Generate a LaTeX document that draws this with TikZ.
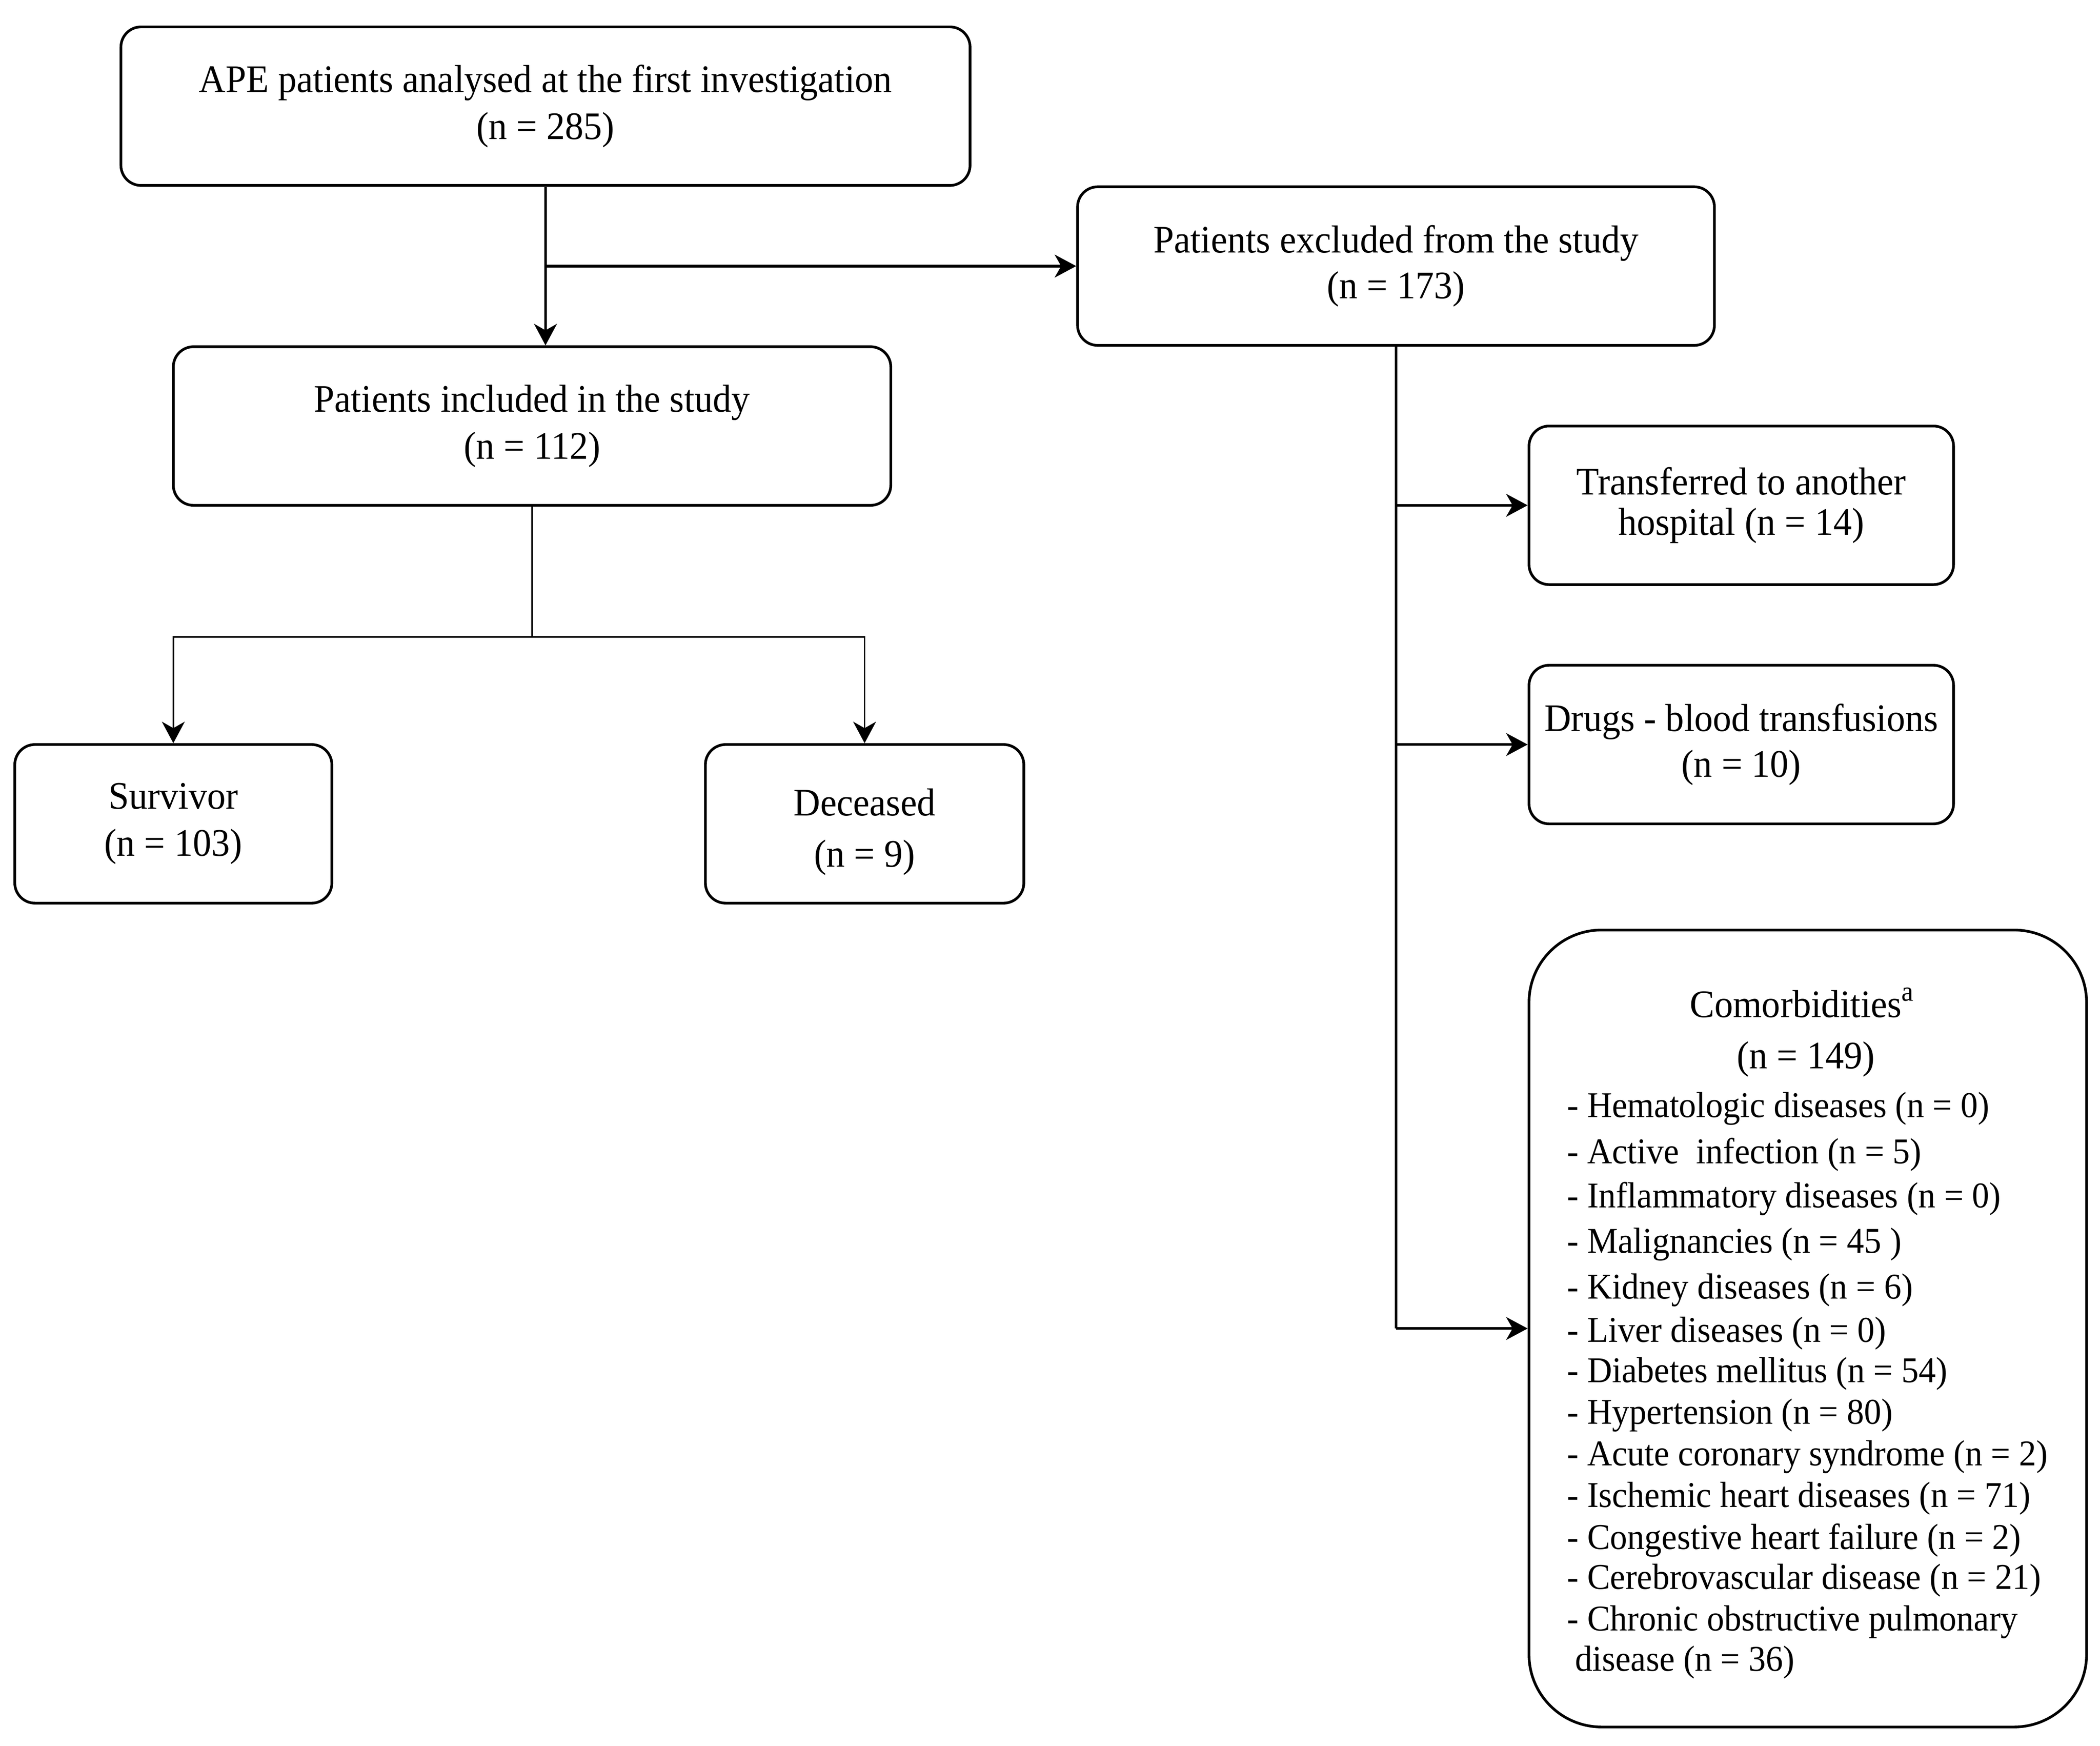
\documentclass[tikz,border=0pt]{standalone}
\usepackage{fontspec}
\usetikzlibrary{arrows.meta}
\newfontfamily\tnr[FakeStretch=0.95]{Liberation Serif}
\begin{document}
\begin{tikzpicture}[x=0.5pt,y=-0.5pt,
  box/.style={draw, line width=1pt, rounded corners=7.5pt, inner sep=0pt, align=center,
    font={\tnr\fontsize{14.5pt}{17.5pt}\selectfont}, minimum height=59pt},
  txt/.style={inner sep=0pt, align=center, font={\tnr\fontsize{14.5pt}{17.5pt}\selectfont}},
  listt/.style={inner sep=0pt, anchor=west, font={\tnr\fontsize{13.5pt}{15.5pt}\selectfont}},
  conn/.style={line width=1pt},
  thinconn/.style={line width=0.6pt},
  arr/.style={line width=1pt, -{Stealth[length=8pt,width=8.5pt,inset=2.4pt]}},
  thinarr/.style={line width=0.6pt, -{Stealth[length=8pt,width=8.5pt,inset=2.4pt]}}]
\useasboundingbox (0,0) rectangle (1563,1299);
% boxes
\node[box, minimum width=316pt] (top) at (406,79) {APE patients analysed at the first investigation\\(n = 285)};
\node[box, minimum width=237pt] (exc) at (1039,198) {Patients excluded from the study\\[-0.5pt](n = 173)};
\node[box, minimum width=267pt] (inc) at (396,317) {Patients included in the study\\(n = 112)};
\node[box, minimum width=118pt] (surv) at (129,613) {Survivor\\(n = 103)};
\node[box, minimum width=118.5pt] (dec) at (643.5,613) {};
\node[txt, font={\tnr\fontsize{14.5pt}{19pt}\selectfont}] (dect) at (643.5,619) {Deceased\\(n = 9)};
\node[box, minimum width=158pt, font={\tnr\fontsize{14.5pt}{15pt}\selectfont}] (trans) at (1296,376) {Transferred to another\\hospital (n = 14)};
\node[box, minimum width=158pt, font={\tnr\fontsize{14.5pt}{17pt}\selectfont}] (drugs) at (1296,554) {Drugs - blood transfusions\\(n = 10)};
\node[box, rounded corners=27pt, minimum width=207.5pt, minimum height=296.5pt] (com) at (1345.5,988.5) {};
% comorbidities text
\node[txt] (comt) at (1341,747) {Comorbidities\smash{\raisebox{0.42em}{\tnr\fontsize{10.5pt}{10.5pt}\selectfont a}}};
\node[txt] (comn) at (1344,788) {(n = 149)};
\foreach \yy/\tt [count=\i] in {825/{- Hematologic diseases (n = 0)},
  859/{- Active\ \ infection (n = 5)},
  892/{- Inflammatory diseases (n = 0)},
  926/{- Malignancies (n = 45 )},
  960/{- Kidney diseases (n = 6)},
  992/{- Liver diseases (n = 0)},
  1022/{- Diabetes mellitus (n = 54)},
  1053/{- Hypertension (n = 80)},
  1084/{- Acute coronary syndrome (n = 2)},
  1115/{- Ischemic heart diseases (n = 71)},
  1146/{- Congestive heart failure (n = 2)},
  1176/{- Cerebrovascular disease (n = 21)},
  1207/{- Chronic obstructive pulmonary}}
  \node[listt] (l\i) at (1166,\yy) {\tt};
\node[listt] (l14) at (1172,1237) {disease (n = 36)};
% connectors
\draw[arr] (top.south) -- (top.south |- inc.north);
\draw[arr] (top.south |- exc.west) -- (exc.west);
\coordinate (sp) at (396,474);
\draw[thinconn] (inc.south) -- (sp);
\draw[thinarr] (sp) -| (surv.north);
\draw[thinarr] (sp) -| (dec.north);
\draw[conn] (exc.south) -- (exc.south |- com.west);
\draw[arr] (exc.south |- trans.west) -- (trans.west);
\draw[arr] (exc.south |- drugs.west) -- (drugs.west);
\draw[arr] (exc.south |- com.west) -- (com.west);
\end{tikzpicture}
\end{document}
